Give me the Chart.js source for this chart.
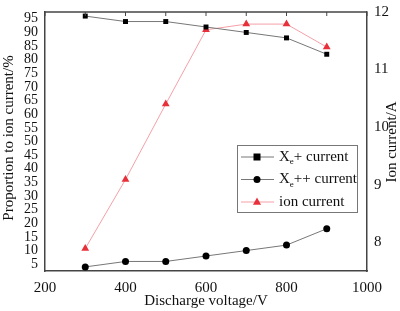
<!DOCTYPE html>
<html><head><meta charset="utf-8">
<script src="https://cdn.jsdelivr.net/npm/chart.js@4"></script>
<style>html,body{margin:0;padding:0;background:#fff}canvas{display:block}</style>
</head><body>
<canvas id="c" width="400" height="311"></canvas>
<script>
const voltages = [300, 400, 500, 600, 700, 800, 900];
const xePlus = [96, 94, 94, 92, 90, 88, 82];
const xePlusPlus = [4, 6, 6, 8, 10, 12, 18];
const ionCurrent = [7.89, 9.09, 10.4, 11.69, 11.79, 11.79, 11.39];
const xTicks = [200, 300, 400, 500, 600, 700, 800, 900, 1000];
const leftTicks = [5,10,15,20,25,30,35,40,45,50,55,60,65,70,75,80,85,90,95];
const rightTicks = [7.5, 8, 8.5, 9, 9.5, 10, 10.5, 11, 11.5, 12];
const legendNames = [["X","e","+ current"],["X","e","++ current"],["ion current","",""]];
const titles = {x: "Discharge voltage/V", left: "Proportion to ion current/%", right: "Ion current/A"};

const FONT = "'Liberation Serif', 'Times New Roman', serif";
const AX = '#444';
const pts = a => voltages.map((v,i)=>({x:v,y:a[i]}));

const deco = {
  id:'deco',
  afterDraw(chart){
    const ctx = chart.ctx, a = chart.chartArea, xs = chart.scales.x;
    ctx.save();
    // top border with ticks
    ctx.strokeStyle = AX; ctx.lineWidth = 1.5;
    ctx.beginPath(); ctx.moveTo(a.left, a.top); ctx.lineTo(a.right, a.top); ctx.stroke();
    ctx.lineWidth = 1;
    xTicks.forEach(v=>{ const px = xs.getPixelForValue(v); ctx.beginPath(); ctx.moveTo(px,a.top); ctx.lineTo(px,a.top+4); ctx.stroke(); });
    // titles
    ctx.fillStyle = '#111';
    ctx.font = "15px " + FONT;
    ctx.textAlign='center'; ctx.textBaseline='middle';
    ctx.fillText(titles.x, 206, 301);
    ctx.save(); ctx.translate(9, 138); ctx.rotate(-Math.PI/2); ctx.fillText(titles.left, 0, 0); ctx.restore();
    ctx.save(); ctx.translate(392, 142); ctx.rotate(-Math.PI/2); ctx.fillText(titles.right, 0, 0); ctx.restore();
    // legend
    ctx.strokeStyle = '#777'; ctx.lineWidth = 1;
    ctx.fillStyle = '#fff';
    ctx.fillRect(237.5, 145.5, 120, 67);
    ctx.strokeRect(237.5, 145.5, 120, 67);
    const ys = [157, 179.5, 202];
    chart.data.datasets.forEach((ds, i) => {
      const y = ys[i];
      ctx.strokeStyle = ds.borderColor; ctx.lineWidth = 1;
      ctx.beginPath(); ctx.moveTo(241, y); ctx.lineTo(274, y); ctx.stroke();
      ctx.fillStyle = ds.pointBackgroundColor;
      const r = ds.pointRadius;
      if (ds.pointStyle === 'rect') ctx.fillRect(257 - r, y - r, 2*r, 2*r);
      else if (ds.pointStyle === 'circle') { ctx.beginPath(); ctx.arc(257, y, r, 0, Math.PI*2); ctx.fill(); }
      else { ctx.beginPath(); ctx.moveTo(257, y - r); ctx.lineTo(257 + r*0.9, y + r*0.6); ctx.lineTo(257 - r*0.9, y + r*0.6); ctx.closePath(); ctx.fill(); }
      const [a1, sub, a2] = legendNames[i];
      ctx.fillStyle = '#111'; ctx.textAlign = 'left'; ctx.textBaseline = 'middle';
      ctx.font = "15px " + FONT;
      let x = 279;
      ctx.fillText(a1, x, y); x += ctx.measureText(a1).width;
      if (sub) {
        ctx.font = "9px " + FONT; ctx.fillText(sub, x, y + 5); x += ctx.measureText(sub).width;
        ctx.font = "15px " + FONT; ctx.fillText(a2, x, y);
      }
    });
    ctx.restore();
  }
};

new Chart(document.getElementById('c'), {
  type: 'line',
  data: { datasets: [
    { label: 'Xe+ current', data: pts(xePlus), yAxisID: 'y', borderColor: '#777', borderWidth: 1,
      pointStyle: 'rect', pointRadius: 3.5, pointBackgroundColor: '#000', pointBorderColor: '#000', pointBorderWidth: 0 },
    { label: 'Xe++ current', data: pts(xePlusPlus), yAxisID: 'y', borderColor: '#777', borderWidth: 1,
      pointStyle: 'circle', pointRadius: 3.5, pointBackgroundColor: '#000', pointBorderColor: '#000', pointBorderWidth: 0 },
    { label: 'ion current', data: pts(ionCurrent), yAxisID: 'y1', borderColor: '#f4a0a8', borderWidth: 1,
      pointStyle: 'triangle', pointRadius: 4.5, pointBackgroundColor: '#e8303a', pointBorderColor: '#e8303a', pointBorderWidth: 0 }
  ]},
  options: {
    responsive: false, animation: false,
    layout: { padding: { top: 7, left: 0, right: 0, bottom: 0 } },
    plugins: { legend: { display: false }, tooltip: { enabled: false } },
    scales: {
      x: { type: 'linear', min: 200, max: 1000,
        afterFit: s => { s.height = 40; },
        afterBuildTicks: s => { s.ticks = xTicks.map(v => ({value: v})); },
        grid: { display: false, drawTicks: true, tickLength: 4, tickColor: AX },
        border: { color: AX, width: 1.5 },
        ticks: { autoSkip: false, maxRotation: 0, padding: 4, color: '#111', font: { family: FONT, size: 15 },
          callback: v => (v % 200 === 0 ? String(v) : '') } },
      y: { position: 'left', min: 2.5, max: 97.5,
        afterFit: s => { s.width = 45; },
        afterBuildTicks: s => { s.ticks = leftTicks.map(v => ({value: v})); },
        grid: { display: false, drawTicks: true, tickLength: 4, tickColor: AX },
        border: { color: AX, width: 1.5 },
        ticks: { autoSkip: false, padding: 3, color: '#111', font: { family: FONT, size: 14 }, callback: v => String(v) } },
      y1: { position: 'right', min: 7.5, max: 12,
        afterFit: s => { s.width = 33; },
        afterBuildTicks: s => { s.ticks = rightTicks.map(v => ({value: v})); },
        grid: { display: false, drawTicks: true, tickLength: 4, tickColor: AX },
        border: { color: AX, width: 1.5 },
        ticks: { autoSkip: false, padding: 3, color: '#111', font: { family: FONT, size: 15 },
          callback: v => (Number.isInteger(v) ? String(v) : '') } }
    }
  },
  plugins: [deco]
});
</script>
</body></html>
